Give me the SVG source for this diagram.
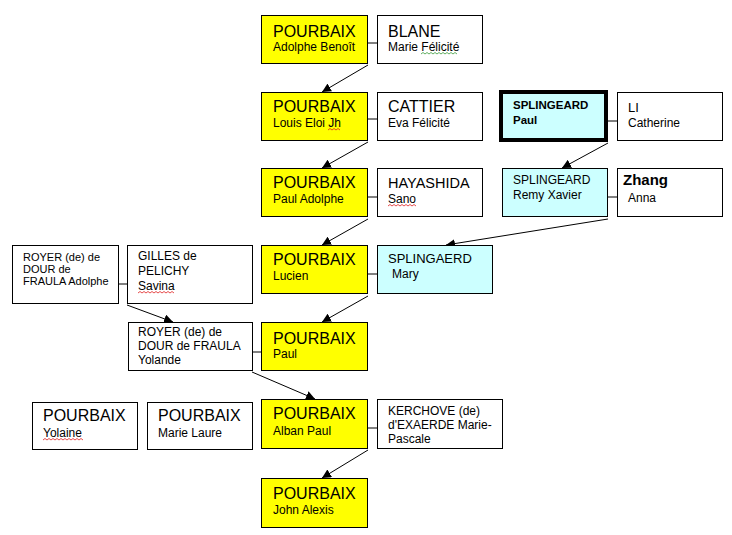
<svg xmlns="http://www.w3.org/2000/svg" width="732" height="535" viewBox="0 0 732 535">
<style>
text{font-family:"Liberation Sans",Arial,sans-serif;fill:#000}
.b{stroke:#000;stroke-width:1}
.y{fill:#ffff00}
.w{fill:#fff}
.c{fill:#ccffff}
.big{font-size:16px}
.sm{font-size:12px}
.xs{font-size:11px}
.bold{font-weight:bold}
.con line{stroke:#000;stroke-width:1}
.ar{marker-end:url(#ah)}
.sq{fill:none;stroke-width:0.8}
</style>
<defs>
<marker id="ah" markerUnits="userSpaceOnUse" markerWidth="9" markerHeight="9" refX="9" refY="4.5" orient="auto">
<path d="M0,0 L9,4.5 L0,9 z" fill="#000"/>
</marker>
</defs>
<rect width="732" height="535" fill="#fff"/>

<g id="connectors" class="con">
<line x1="367" y1="43" x2="377" y2="43"/>
<line x1="367" y1="119" x2="377" y2="119"/>
<line x1="367" y1="197" x2="377" y2="197"/>
<line x1="367" y1="274" x2="377" y2="274"/>
<line x1="606" y1="121" x2="617" y2="121"/>
<line x1="607" y1="197" x2="617" y2="197"/>
<line x1="118" y1="284" x2="127" y2="284"/>
<line x1="252" y1="352" x2="261" y2="352"/>
<line x1="367" y1="428" x2="377" y2="428"/>
<line class="ar" x1="368" y1="65" x2="322" y2="92"/>
<line class="ar" x1="368" y1="142" x2="322" y2="168"/>
<line class="ar" x1="368" y1="219" x2="322" y2="245"/>
<line class="ar" x1="368" y1="296" x2="322" y2="322"/>
<line class="ar" x1="608" y1="143" x2="562" y2="168"/>
<line class="ar" x1="608" y1="219" x2="446" y2="245"/>
<line class="ar" x1="127" y1="305" x2="173" y2="322"/>
<line class="ar" x1="252" y1="372" x2="315" y2="399"/>
<line class="ar" x1="368" y1="450" x2="322" y2="478"/>
</g>

<g id="pourbaix-adolphe-benoit">
<rect class="b y" x="261.5" y="15.5" width="106" height="48"/>
<text class="big" x="273" y="37">POURBAIX</text>
<text class="sm" x="273" y="51">Adolphe Benoît</text>
</g>
<g id="blane-marie-felicite">
<rect class="b w" x="377.5" y="15.5" width="105" height="48"/>
<text class="big" x="388" y="37">BLANE</text>
<text class="sm" x="388" y="51">Marie Félicité</text>
<path class="sq" stroke="#3a9a3a" d="M421,54 l2,-1.5 l2,1.5 l2,-1.5 l2,1.5 l2,-1.5 l2,1.5 l2,-1.5 l2,1.5 l2,-1.5 l2,1.5 l2,-1.5 l2,1.5 l2,-1.5 l2,1.5 l2,-1.5 l2,1.5 l2,-1.5 l2,1.5"/>
</g>
<g id="pourbaix-louis-eloi-jh">
<rect class="b y" x="261.5" y="92.5" width="106" height="48"/>
<text class="big" x="273" y="112">POURBAIX</text>
<text class="sm" x="273" y="127">Louis Eloi Jh</text>
<path class="sq" stroke="#e02020" d="M328,130 l2,-1.5 l2,1.5 l2,-1.5 l2,1.5 l2,-1.5 l2,1.5"/>
</g>
<g id="cattier-eva-felicite">
<rect class="b w" x="377.5" y="92.5" width="105" height="48"/>
<text class="big" x="388" y="112">CATTIER</text>
<text class="sm" x="388" y="127">Eva Félicité</text>
</g>
<g id="pourbaix-paul-adolphe">
<rect class="b y" x="261.5" y="168.5" width="106" height="48"/>
<text class="big" x="273" y="188">POURBAIX</text>
<text class="sm" x="273" y="203">Paul Adolphe</text>
</g>
<g id="hayashida-sano">
<rect class="b w" x="377.5" y="168.5" width="105" height="48"/>
<text style="font-size:14.5px" x="388" y="188">HAYASHIDA</text>
<text class="sm" x="388" y="203">Sano</text>
<path class="sq" stroke="#e02020" d="M388,206 l2,-1.5 l2,1.5 l2,-1.5 l2,1.5 l2,-1.5 l2,1.5 l2,-1.5 l2,1.5 l2,-1.5 l2,1.5 l2,-1.5 l2,1.5 l2,-1.5 l2,1.5"/>
</g>
<g id="pourbaix-lucien">
<rect class="b y" x="261.5" y="245.5" width="106" height="48"/>
<text class="big" x="273" y="265">POURBAIX</text>
<text class="sm" x="273" y="280">Lucien</text>
</g>
<g id="splingaerd-mary">
<rect class="b c" x="377.5" y="245.5" width="115" height="48"/>
<text style="font-size:13px" x="388" y="263">SPLINGAERD</text>
<text class="sm" x="392" y="278">Mary</text>
</g>
<g id="splingeard-paul">
<rect x="501" y="92" width="105" height="48" fill="#ccffff" stroke="#000" stroke-width="4"/>
<text class="sm bold" style="font-size:11.5px" x="513" y="109">SPLINGEARD</text>
<text class="sm bold" style="font-size:11.5px" x="513" y="124">Paul</text>
</g>
<g id="li-catherine">
<rect class="b w" x="617.5" y="92.5" width="105" height="48"/>
<text style="font-size:13px" x="628" y="112">LI</text>
<text class="sm" x="628" y="127">Catherine</text>
</g>
<g id="splingeard-remy-xavier">
<rect class="b c" x="502.5" y="168.5" width="105" height="48"/>
<text class="sm" x="513" y="184">SPLINGEARD</text>
<text class="sm" x="513" y="199">Remy Xavier</text>
</g>
<g id="zhang-anna">
<rect class="b w" x="617.5" y="168.5" width="105" height="48"/>
<text class="bold" style="font-size:15px" x="623" y="185">Zhang</text>
<text class="sm" x="628" y="202">Anna</text>
</g>
<g id="royer-adolphe">
<rect class="b w" x="12.5" y="245.5" width="106" height="58"/>
<text class="xs" x="23" y="261">ROYER (de) de</text>
<text class="xs" x="23" y="273">DOUR de</text>
<text class="xs" x="23" y="285">FRAULA Adolphe</text>
</g>
<g id="gilles-savina">
<rect class="b w" x="127.5" y="245.5" width="125" height="58"/>
<text class="sm" x="138" y="260">GILLES de</text>
<text class="sm" x="138" y="275">PELICHY</text>
<text class="sm" x="138" y="290">Savina</text>
<path class="sq" stroke="#e02020" d="M138,293 l2,-1.5 l2,1.5 l2,-1.5 l2,1.5 l2,-1.5 l2,1.5 l2,-1.5 l2,1.5 l2,-1.5 l2,1.5 l2,-1.5 l2,1.5 l2,-1.5 l2,1.5 l2,-1.5 l2,1.5 l2,-1.5 l2,1.5"/>
</g>
<g id="royer-yolande">
<rect class="b w" x="128.5" y="322.5" width="124" height="48"/>
<text class="sm" x="138" y="336">ROYER (de) de</text>
<text class="sm" x="138" y="350">DOUR de FRAULA</text>
<text class="sm" x="138" y="364">Yolande</text>
</g>
<g id="pourbaix-paul">
<rect class="b y" x="261.5" y="322.5" width="106" height="48"/>
<text class="big" x="273" y="344">POURBAIX</text>
<text class="sm" x="273" y="358">Paul</text>
</g>
<g id="pourbaix-yolaine">
<rect class="b w" x="32.5" y="402.5" width="105" height="47"/>
<text class="big" x="43" y="421">POURBAIX</text>
<text class="sm" x="43" y="437">Yolaine</text>
<path class="sq" stroke="#e02020" d="M43,440 l2,-1.5 l2,1.5 l2,-1.5 l2,1.5 l2,-1.5 l2,1.5 l2,-1.5 l2,1.5 l2,-1.5 l2,1.5 l2,-1.5 l2,1.5 l2,-1.5 l2,1.5 l2,-1.5 l2,1.5 l2,-1.5 l2,1.5 l2,-1.5 l2,1.5"/>
</g>
<g id="pourbaix-marie-laure">
<rect class="b w" x="147.5" y="402.5" width="105" height="47"/>
<text class="big" x="158" y="421">POURBAIX</text>
<text class="sm" x="158" y="437">Marie Laure</text>
</g>
<g id="pourbaix-alban-paul">
<rect class="b y" x="261.5" y="399.5" width="106" height="49"/>
<text class="big" x="273" y="419">POURBAIX</text>
<text class="sm" x="273" y="435">Alban Paul</text>
</g>
<g id="kerchove-marie-pascale">
<rect class="b w" x="377.5" y="399.5" width="125" height="49"/>
<text class="sm" x="388" y="415">KERCHOVE (de)</text>
<text class="sm" x="388" y="429">d'EXAERDE Marie-</text>
<text class="sm" x="388" y="443">Pascale</text>
</g>
<g id="pourbaix-john-alexis">
<rect class="b y" x="261.5" y="478.5" width="106" height="49"/>
<text class="big" x="273" y="499">POURBAIX</text>
<text class="sm" x="273" y="514">John Alexis</text>
</g>
</svg>
